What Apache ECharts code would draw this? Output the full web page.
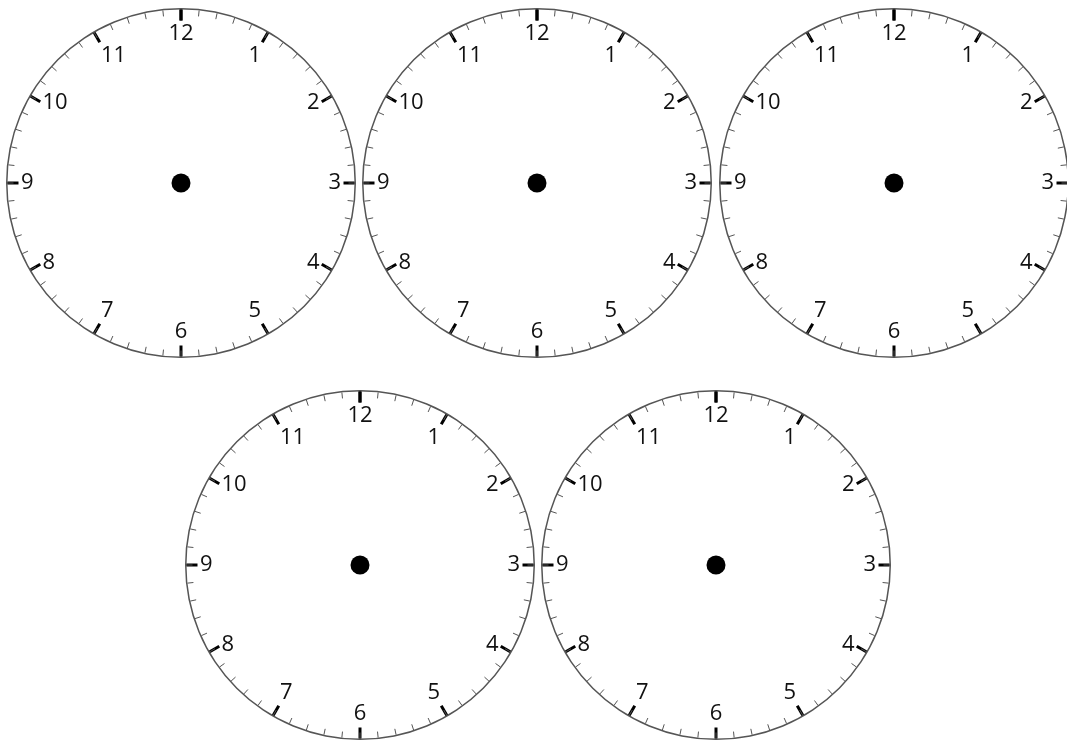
<!DOCTYPE html>
<html>
<head>
<meta charset="utf-8">
<script src="https://cdn.jsdelivr.net/npm/echarts@6/dist/echarts.min.js"></script>
<style>
  html, body { margin: 0; padding: 0; background: #fff; }
  #main { width: 1067px; height: 740px; }
</style>
</head>
<body>
<div id="main"></div>
<script>
// hours shown on each dial, 0 stands in for 12 at the top
const hourValues = [0, 1, 2, 3, 4, 5, 6, 7, 8, 9, 10, 11, 12];
const hourLabels = ['', '1', '2', '3', '4', '5', '6', '7', '8', '9', '10', '11', '12'];
const minutesPerHour = 5;
const clockNames = ['clock1', 'clock2', 'clock3', 'clock4', 'clock5'];

const myChart = echarts.init(document.getElementById('main'));

// where each dial sits on the page
const centers = [
  [181, 183], [537, 183], [894, 183],
  [360, 565], [716, 565]
];

function clock(name, center) {
  return {
    name: name,
    type: 'gauge',
    center: center,
    radius: 175,
    startAngle: 90,
    endAngle: -270,
    min: hourValues[0],
    max: hourValues[hourValues.length - 1],
    splitNumber: hourValues.length - 1,
    axisLine: {
      lineStyle: { width: 1.5, color: [[1, '#555']] }
    },
    splitLine: {
      distance: 0,
      length: 11,
      lineStyle: { width: 3, color: '#000' }
    },
    axisTick: {
      distance: 0,
      splitNumber: minutesPerHour,
      length: 6,
      lineStyle: { width: 1, color: '#555' }
    },
    axisLabel: {
      distance: 4,
      color: '#111',
      fontSize: 22,
      fontFamily: 'Open Sans',
      formatter: (v) => hourLabels[hourValues.indexOf(Math.round(v))] || ''
    },
    pointer: { show: false },
    anchor: {
      show: true,
      size: 19,
      showAbove: true,
      itemStyle: { color: '#000', borderWidth: 0 }
    },
    title: { show: false },
    detail: { show: false },
    data: [{ value: 0 }]
  };
}

const option = {
  backgroundColor: '#fff',
  animation: false,
  series: clockNames.map((n, i) => clock(n, centers[i]))
};

option && myChart.setOption(option);
</script>
</body>
</html>
